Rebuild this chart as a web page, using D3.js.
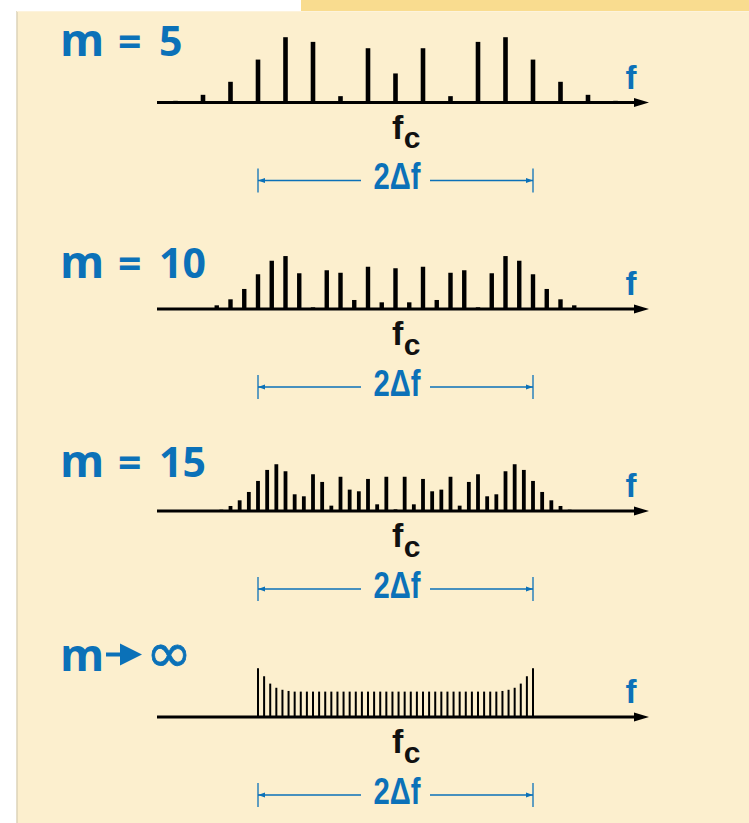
<!DOCTYPE html>
<html>
<head>
<meta charset="utf-8">
<script src="https://cdn.jsdelivr.net/npm/d3@7"></script>
<style>
  html, body { margin: 0; padding: 0; background: #ffffff; }
  svg { display: block; }
</style>
</head>
<body>
<svg id="chart" width="749" height="823"></svg>
<script>
// ---- data (relative sideband amplitudes) ----
const panelLabels = ["5", "10", "15", "∞"];

// m = 5 : sidebands n = -8 .. 8
const sidebandsM5 = [0.010, 0.046, 0.124, 0.257, 0.391, 0.363, 0.038, 0.325, 0.174,
                     0.325, 0.038, 0.363, 0.391, 0.257, 0.124, 0.046, 0.010];

// m = 10 : sidebands n = -14 .. 14
const sidebandsM10 = [0.004, 0.022, 0.058, 0.120, 0.208, 0.289, 0.317, 0.214, 0.010, 0.232,
                      0.217, 0.054, 0.253, 0.040, 0.244, 0.040, 0.253, 0.054, 0.217, 0.232,
                      0.010, 0.214, 0.317, 0.289, 0.208, 0.120, 0.058, 0.022, 0.004];

// m = 15 : sidebands n = -19 .. 19
const sidebandsM15 = [0.008, 0.030, 0.064, 0.114, 0.180, 0.246, 0.280, 0.238, 0.100, 0.088,
                      0.220, 0.174, 0.032, 0.205, 0.128, 0.118, 0.192, 0.040, 0.205, 0.010,
                      0.205, 0.040, 0.192, 0.118, 0.128, 0.205, 0.032, 0.174, 0.220, 0.088,
                      0.100, 0.238, 0.280, 0.246, 0.180, 0.114, 0.064, 0.030, 0.008];

// m -> infinity : 46 closely spaced lines between fc - Δf and fc + Δf
const sidebandsInf = [0.292, 0.244, 0.200, 0.175, 0.163, 0.156,
  0.152, 0.152, 0.152, 0.152, 0.152, 0.152, 0.152, 0.152, 0.152, 0.152,
  0.152, 0.152, 0.152, 0.152, 0.152, 0.152, 0.152, 0.152, 0.152, 0.152,
  0.152, 0.152, 0.152, 0.152, 0.152, 0.152, 0.152, 0.152, 0.152, 0.152,
  0.152, 0.152, 0.152, 0.152,
  0.156, 0.163, 0.175, 0.200, 0.244, 0.292];

const axisLabel = "f";
const carrierLabel = "f";
const carrierSub = "c";
const spanLabel = "2Δf";

// ---- drawing ----
const BLUE = "#0b71b8";
const SANS = "'Liberation Sans', Arial, sans-serif";
const HUMAN = "'Open Sans', 'Liberation Sans', sans-serif";
const svg = d3.select("#chart");

// background
svg.append("rect").attr("x", 0).attr("y", 0).attr("width", 749).attr("height", 823).attr("fill", "#ffffff");
svg.append("rect").attr("x", 301).attr("y", 0).attr("width", 448).attr("height", 11).attr("fill", "#f9dc8f");
svg.append("rect").attr("x", 17).attr("y", 11).attr("width", 732).attr("height", 812).attr("fill", "#fcefce");
svg.append("line").attr("x1", 17).attr("x2", 17).attr("y1", 11).attr("y2", 823)
   .attr("stroke", "#ddd3b8").attr("stroke-width", 1.5);
svg.append("line").attr("x1", 17).attr("x2", 749).attr("y1", 11.5).attr("y2", 11.5)
   .attr("stroke", "#fdf3dc").attr("stroke-width", 1);

// x scale: in units of the peak deviation Δf, fc at 0
const x = d3.scaleLinear().domain([-1, 1]).range([258, 533]);
// y scale: amplitude -> bar height in px
const h = d3.scaleLinear().domain([0, 0.4]).range([0, 66.8]);

const panels = [
  { data: sidebandsM5,  m: 5,  axisY: 102.5, barW: 4.6, labelY: 55.5 },
  { data: sidebandsM10, m: 10, axisY: 309,   barW: 4.4, labelY: 278 },
  { data: sidebandsM15, m: 15, axisY: 511,   barW: 3.8, labelY: 477 },
  { data: sidebandsInf, m: null, axisY: 717, barW: 2.0, labelY: 671 }
];

panels.forEach((p, pi) => {
  const g = svg.append("g");
  const n = p.data.length;
  const half = (n - 1) / 2;
  const pos = p.m ? (i => (i - half) / p.m) : (i => -1 + 2 * i / (n - 1));

  // spectral lines
  g.selectAll("rect.bar").data(p.data).join("rect")
    .attr("class", "bar")
    .attr("x", (d, i) => x(pos(i)) - p.barW / 2)
    .attr("width", p.barW)
    .attr("y", d => p.axisY - h(d))
    .attr("height", d => h(d) + 1)
    .attr("fill", "#000");

  // frequency axis with arrow
  const ax0 = x.invert(157), ax1 = x.invert(636), axTip = x.invert(649);
  g.append("line")
    .attr("x1", x(ax0)).attr("x2", x(ax1))
    .attr("y1", p.axisY).attr("y2", p.axisY)
    .attr("stroke", "#000").attr("stroke-width", 3);
  g.append("path")
    .attr("d", `M${x(ax1) - 2},${p.axisY - 4.5} L${x(axTip)},${p.axisY} L${x(ax1) - 2},${p.axisY + 4.5} Z`)
    .attr("fill", "#000");

  // axis label f
  g.append("text")
    .attr("x", 631).attr("y", p.axisY - 14)
    .attr("text-anchor", "middle")
    .attr("font-family", SANS)
    .attr("font-weight", 700).attr("font-size", 33)
    .attr("fill", BLUE).text(axisLabel);

  // carrier label fc
  const fc = g.append("text")
    .attr("x", 392).attr("y", p.axisY + 36)
    .attr("font-family", SANS)
    .attr("font-weight", 700).attr("fill", "#111");
  fc.append("tspan").attr("font-size", 34).text(carrierLabel);
  fc.append("tspan").attr("font-size", 30).attr("dy", 9.5).attr("dx", 0.5).text(carrierSub);

  // 2Δf span indicator
  const ly = p.axisY + 78;
  const gl = g.append("g").attr("stroke", BLUE).attr("fill", BLUE);
  [-1, 1].forEach(s => {
    gl.append("line").attr("x1", x(s)).attr("x2", x(s))
      .attr("y1", ly - 12).attr("y2", ly + 12).attr("stroke-width", 1.3);
  });
  gl.append("line").attr("x1", x(-1)).attr("x2", 361).attr("y1", ly).attr("y2", ly).attr("stroke-width", 1.3);
  gl.append("line").attr("x1", 430).attr("x2", x(1)).attr("y1", ly).attr("y2", ly).attr("stroke-width", 1.3);
  gl.append("path").attr("stroke", "none")
    .attr("d", `M${x(-1)},${ly} L${x(-1) + 7},${ly - 2.5} L${x(-1) + 7},${ly + 2.5} Z`);
  gl.append("path").attr("stroke", "none")
    .attr("d", `M${x(1)},${ly} L${x(1) - 7},${ly - 2.5} L${x(1) - 7},${ly + 2.5} Z`);
  g.append("text")
    .attr("x", 373.5).attr("y", ly + 8.5)
    .attr("font-family", SANS)
    .attr("font-weight", 700).attr("font-size", 37)
    .attr("textLength", 47).attr("lengthAdjust", "spacingAndGlyphs")
    .attr("fill", BLUE).text(spanLabel);

  // panel label
  const lab = g.append("g").attr("fill", BLUE)
    .attr("font-family", HUMAN).attr("font-weight", 700);
  lab.append("text").attr("x", 60).attr("y", p.labelY).attr("font-size", 45).text("m");
  if (p.m) {
    lab.append("text").attr("x", 118).attr("y", p.labelY).attr("font-size", 41).text("=");
    lab.append("text").attr("x", 159).attr("y", p.labelY).attr("font-size", 41).text(panelLabels[pi]);
  } else {
    const ay = p.labelY - 16.5;
    lab.append("rect").attr("x", 106).attr("y", ay - 2).attr("width", 16).attr("height", 4);
    lab.append("path").attr("d", `M120,${ay - 11} L142,${ay} L120,${ay + 11} Z`);
    lab.append("text").attr("x", 146).attr("y", p.labelY + 1)
      .attr("font-family", "'DejaVu Sans', sans-serif").attr("font-weight", 400)
      .attr("font-size", 56)
      .attr("textLength", 46).attr("lengthAdjust", "spacingAndGlyphs")
      .attr("stroke", BLUE).attr("stroke-width", 0.8)
      .text(panelLabels[pi]);
  }
});
</script>
</body>
</html>
